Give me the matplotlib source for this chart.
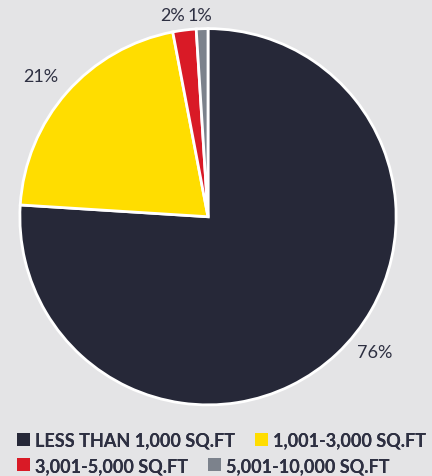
import matplotlib.pyplot as plt

# share of units by size band
sizes = ["LESS THAN 1,000 SQ.FT", "1,001-3,000 SQ.FT",
         "3,001-5,000 SQ.FT", "5,001-10,000 SQ.FT"]
shares = [76, 21, 2, 1]
colors = ["#262838", "#ffdd00", "#d91a26", "#7c828c"]

bg = "#e4e4e6"
txt = "#2e3042"

fig = plt.figure(figsize=(4.32, 4.77), dpi=100, facecolor=bg)
ax = fig.add_axes([0.046, 0.149, 0.871, 0.789])
ax.set_facecolor(bg)

wedges, texts = ax.pie(shares, colors=colors, startangle=90, counterclock=False,
                       labels=[f"{s}%" for s in shares], labeldistance=1.13,
                       wedgeprops=dict(edgecolor="white", linewidth=2),
                       textprops=dict(fontsize=13, color=txt, family="Lato"))
ax.set_xlim(-1, 1)
ax.set_ylim(-1, 1)
ax.set_aspect("equal")

# nudge the small-slice labels so they sit side by side above the pie
texts[0].set_position((0.884, -0.72))
texts[1].set_position((-0.89, 0.75))
texts[2].set_position((-0.19, 1.07))
texts[3].set_position((-0.045, 1.07))
for t in texts:
    t.set_ha("center")
    t.set_va("center")

# legend laid out as two free-flowing rows
font = dict(family="Lato", weight="bold", size=13)
rows = [(0, 1), (2, 3)]
tops = [0.075, 0.022]
for (i, j), y in zip(rows, tops):
    leg = fig.legend([wedges[i], wedges[j]], [sizes[i], sizes[j]], ncol=2,
                     loc="center left", bbox_to_anchor=(0.04, y), frameon=False,
                     prop=font, handlelength=0.7, handleheight=0.7,
                     handletextpad=0.3, columnspacing=1.1, borderpad=0, borderaxespad=0)
    for h in leg.legend_handles:
        h.set_edgecolor("none")
    for t in leg.get_texts():
        t.set_color(txt)
    fig.add_artist(leg)

fig.savefig("out.png", dpi=100, facecolor=bg)
